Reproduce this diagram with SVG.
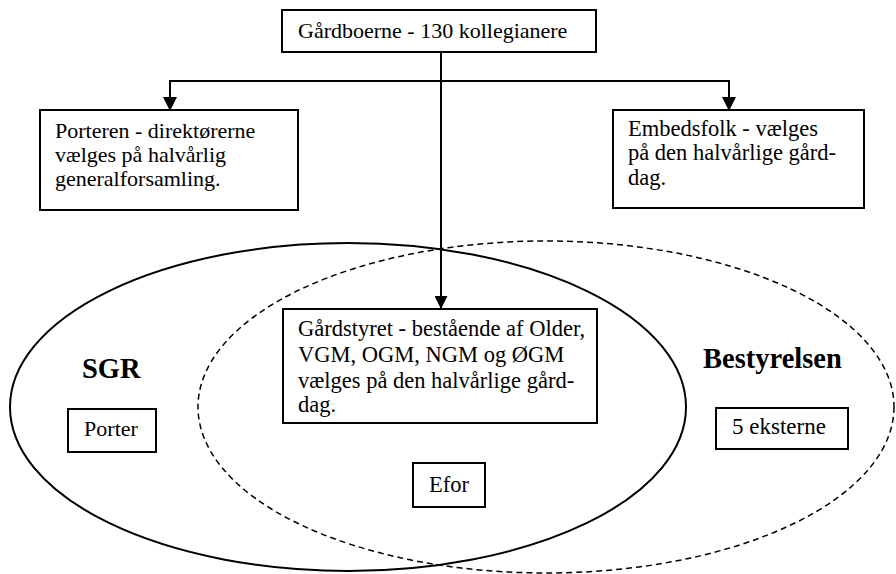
<svg xmlns="http://www.w3.org/2000/svg" width="896" height="574" viewBox="0 0 896 574">
<style>
.box{fill:#fff;stroke:#000;stroke-width:2}
.ln{fill:none;stroke:#000;stroke-width:2}
</style>
<defs>
<marker id="ah2" viewBox="0 0 10 10" refX="10" refY="5" markerWidth="14" markerHeight="13" markerUnits="userSpaceOnUse" orient="auto">
<path d="M0,0 L10,5 L0,10 Z" fill="#000"/>
</marker>
</defs>
<g id="ellipses">
<ellipse cx="348" cy="407" rx="338" ry="164" fill="none" stroke="#000" stroke-width="2"/>
<ellipse cx="546" cy="407" rx="348" ry="166" fill="none" stroke="#000" stroke-width="1.5" stroke-dasharray="6,4"/>
</g>
<g id="connectors">
<line class="ln" x1="441" y1="52" x2="441" y2="309" marker-end="url(#ah2)"/>
<polyline class="ln" points="170,110 170,81 729,81 729,110" fill="none"/>
<path d="M163,97 L177,97 L170,111 Z" fill="#000"/>
<path d="M722,97 L736,97 L729,111 Z" fill="#000"/>
</g>
<g id="top" font-family="Liberation Serif" font-size="22">
<rect class="box" x="282" y="10" width="314" height="42"/>
<text x="298" y="38">Gårdboerne - 130 kollegianere</text>
</g>
<g id="porteren" font-family="Liberation Serif" font-size="22">
<rect class="box" x="40" y="110" width="258" height="100"/>
<text x="55" y="138">Porteren - direktørerne</text>
<text x="55" y="162">vælges på halvårlig</text>
<text x="55" y="186">generalforsamling.</text>
</g>
<g id="embedsfolk" font-family="Liberation Serif" font-size="22.5">
<rect class="box" x="613" y="110" width="251" height="98"/>
<text x="628" y="136">Embedsfolk - vælges</text>
<text x="628" y="160">på den halvårlige gård-</text>
<text x="628" y="185">dag.</text>
</g>
<g id="gardstyret" font-family="Liberation Serif" font-size="22.5">
<rect class="box" x="283" y="309" width="314" height="114"/>
<text x="298" y="336">Gårdstyret - bestående af Older,</text>
<text x="298" y="362">VGM, OGM, NGM og ØGM</text>
<text x="298" y="388">vælges på den halvårlige gård-</text>
<text x="298" y="412">dag.</text>
</g>
<g id="sgr" font-family="Liberation Serif" font-size="28.5" font-weight="bold">
<text x="82" y="378">SGR</text>
</g>
<g id="porter" font-family="Liberation Serif" font-size="22">
<rect class="box" x="68" y="409" width="88" height="43"/>
<text x="111" y="436" text-anchor="middle">Porter</text>
</g>
<g id="efor" font-family="Liberation Serif" font-size="22.5">
<rect class="box" x="413" y="463" width="72" height="44"/>
<text x="449" y="492" text-anchor="middle">Efor</text>
</g>
<g id="bestyrelsen" font-family="Liberation Serif" font-size="28.5" font-weight="bold">
<text x="703" y="368">Bestyrelsen</text>
</g>
<g id="eksterne" font-family="Liberation Serif" font-size="23">
<rect class="box" x="716" y="408" width="132" height="41"/>
<text x="779" y="434" text-anchor="middle">5 eksterne</text>
</g>
</svg>
